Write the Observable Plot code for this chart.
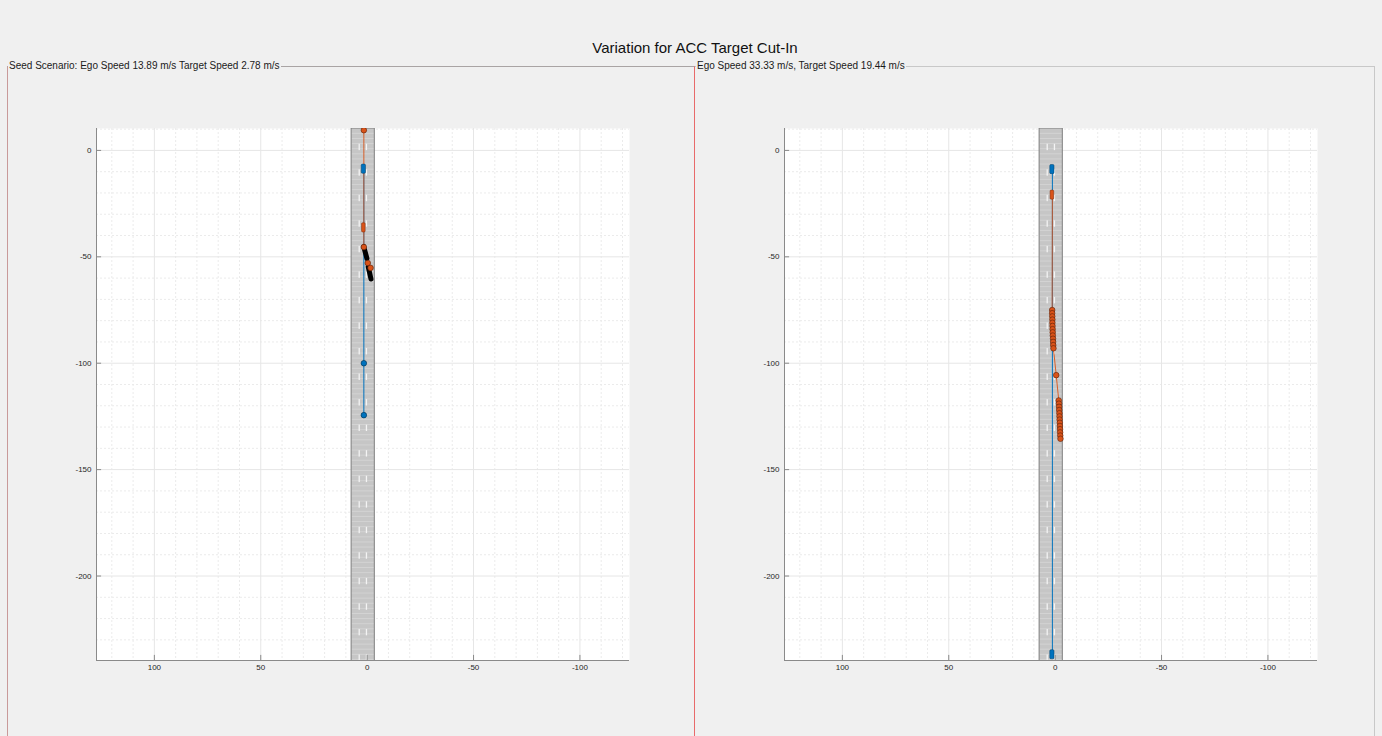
<!DOCTYPE html>
<html>
<head>
<meta charset="utf-8">
<script src="https://cdn.jsdelivr.net/npm/d3@7"></script>
<script src="https://cdn.jsdelivr.net/npm/@observablehq/plot@0.6"></script>
<style>
  html, body { margin: 0; padding: 0; }
  body { background: #f0f0f0; width: 1382px; height: 736px; overflow: hidden; position: relative;
         font-family: "Liberation Sans", Arial, Helvetica, sans-serif; }
  #title { position: absolute; left: 0; top: 39px; width: 1390px; text-align: center;
           font-size: 15px; line-height: 18px; color: #111; }
  .pborder { position: absolute; box-sizing: border-box; }
  .ptitle { position: absolute; top: 60px; font-size: 10px; line-height: 12px; color: #1a1a1a;
            background: #f0f0f0; padding: 0 1px; white-space: nowrap; }
  .chart { position: absolute; top: 100px; }
</style>
</head>
<body>
<div id="title">Variation for ACC Target Cut-In</div>
<div class="pborder" style="left:694px; top:66px; width:681px; height:700px; border-top:1px solid #c8c8c8; border-right:1px solid #c8c8c8;"></div>
<div class="pborder" style="left:7px; top:66px; width:688px; height:700px; border-top:1px solid #a9a4a4; border-left:1px solid #c99a9a; border-right:1px solid #e86a6a;"></div>
<div class="ptitle" style="left:8px;">Seed Scenario: Ego Speed 13.89 m/s Target Speed 2.78 m/s</div>
<div class="ptitle" style="left:696px;">Ego Speed 33.33 m/s, Target Speed 19.44 m/s</div>
<div class="chart" id="left" style="left:46px;"></div>
<div class="chart" id="right" style="left:734px;"></div>
<script>
// ---------- axes ----------
const xTicks = [100, 50, 0, -50, -100];
const yTicks = [0, -50, -100, -150, -200];
const xMinor = [120, 110, 90, 80, 70, 60, 40, 30, 20, 10, -10, -20, -30, -40, -60, -70, -80, -90, -110, -120];
const yMinor = [10, -10, -20, -30, -40, -60, -70, -80, -90, -110, -120, -130, -140, -160, -170, -180, -190, -210, -220, -230];
const xDomain = [127.2, -123.3];
const yDomain = [-239.7, 10.3];

// ---------- road ----------
const roadEdges = [-3.6, 7.3];
const roadLength = [-245, 10.3];
const laneMarkers = [0.1, 3.5];
const dashCenters = [1.4, -10.6, -22.6, -34.6, -46.6, -58.6, -70.6, -82.6, -94.6, -106.6, -118.6,
                     -130.6, -142.6, -154.6, -166.6, -178.6, -190.6, -202.6, -214.6, -226.6, -238.6];
const roadTexture = d3.range(-244, 10, 2.4);

// ---------- seed scenario (left) ----------
const seedEgoCars = [{x: 1.55, y: -8.8}];
const seedEgoPath = [{x: 1.55, y: -8.8}, {x: 1.55, y: -100}, {x: 1.55, y: -124.4}];
const seedEgoPoints = [{x: 1.55, y: -100}, {x: 1.55, y: -124.4}];
const seedTargetCars = [{x: 1.55, y: -36.4}];
const seedTargetPath = [{x: 1.55, y: 9.5}, {x: 1.55, y: -36.4}, {x: 1.55, y: -45.4}, {x: -0.3, y: -52.9}, {x: -1.6, y: -55.2}];
const seedTargetPoints = [{x: 1.55, y: 9.5}, {x: 1.55, y: -45.4}, {x: -0.3, y: -52.9}, {x: -1.6, y: -55.2}];
const seedOtherCars = [{x1: 1.6, y1: -45.2, x2: 0.1, y2: -50.8}, {x1: -0.5, y1: -54.6, x2: -1.8, y2: -60.4}];

// ---------- variant (right) ----------
const varEgoCars = [{x: 1.3, y: -9}, {x: 1.3, y: -237}];
const varEgoPath = [{x: 1.3, y: -9}, {x: 1.3, y: -237}];
const varEgoPoints = [];
const varTargetCars = [{x: 1.3, y: -21}];
const varTargetPoints = [
  {x: 1.4, y: -75}, {x: 1.4, y: -76.5}, {x: 1.35, y: -78}, {x: 1.3, y: -79.5}, {x: 1.3, y: -81},
  {x: 1.25, y: -82.5}, {x: 1.2, y: -84}, {x: 1.15, y: -85.5}, {x: 1.1, y: -87}, {x: 1.0, y: -88.5},
  {x: 0.95, y: -90}, {x: 0.9, y: -91.5}, {x: 0.8, y: -93},
  {x: -0.5, y: -105.6},
  {x: -1.7, y: -117.5}, {x: -1.8, y: -119}, {x: -1.85, y: -120.5}, {x: -1.9, y: -122}, {x: -2.0, y: -123.5},
  {x: -2.05, y: -125}, {x: -2.1, y: -126.5}, {x: -2.2, y: -128}, {x: -2.25, y: -129.5}, {x: -2.3, y: -131},
  {x: -2.35, y: -132.5}, {x: -2.4, y: -134}, {x: -2.5, y: -135.5}
];
const varTargetPath = [{x: 1.3, y: -21}, ...varTargetPoints];
const varOtherCars = [];

// ---------- colours ----------
const blue = "#0072BD";
const orange = "#D95319";

const carHalfW = 1.0, carHalfL = 2.15, tickLen = 2.4;

function panel(d) {
  const dashes = dashCenters.flatMap(c => laneMarkers.map(m => ({c, m})));
  return Plot.plot({
    width: 600, height: 590,
    marginLeft: 50, marginRight: 17, marginTop: 28, marginBottom: 30,
    x: {domain: xDomain},
    y: {domain: yDomain},
    style: {background: "transparent", fontFamily: "'Liberation Sans', Arial, sans-serif", fontSize: "8px", color: "#262626", overflow: "visible"},
    marks: [
      Plot.frame({fill: "white", stroke: "none"}),
      Plot.gridX(xMinor, {stroke: "#ebebeb", strokeOpacity: 1, strokeDasharray: "2,2"}),
      Plot.gridY(yMinor, {stroke: "#ebebeb", strokeOpacity: 1, strokeDasharray: "2,2"}),
      Plot.gridX(xTicks, {stroke: "#e6e6e6", strokeOpacity: 1}),
      Plot.gridY(yTicks, {stroke: "#e6e6e6", strokeOpacity: 1}),
      // road
      Plot.rect([0], {x1: roadEdges[0], x2: roadEdges[1], y1: roadLength[0], y2: roadLength[1], fill: "#c6c6c6", clip: true}),
      Plot.ruleY(roadTexture, {x1: roadEdges[0], x2: roadEdges[1], stroke: "#d3d3d3", strokeWidth: 1, clip: true}),
      Plot.rect(dashes, {x1: v => v.m - 0.3, x2: v => v.m + 0.3, y1: v => v.c - 1.5, y2: v => v.c + 1.5, fill: "#f4f4f4", clip: true}),
      Plot.rect([0], {x1: roadEdges[0], x2: roadEdges[1], y1: roadLength[0], y2: roadLength[1], fill: "none", stroke: "#7f7f7f", strokeWidth: 1, clip: true}),
      // paths
      Plot.line(d.egoPath, {x: "x", y: "y", stroke: blue, strokeWidth: 1, clip: true}),
      Plot.line(d.targetPath, {x: "x", y: "y", stroke: orange, strokeWidth: 0.9, clip: true}),
      // cars
      Plot.link(d.otherCars, {x1: "x1", y1: "y1", x2: "x2", y2: "y2", stroke: "black", strokeWidth: 5, strokeLinecap: "round", clip: true}),
      Plot.rect(d.egoCars, {x1: v => v.x - carHalfW, x2: v => v.x + carHalfW, y1: v => v.y - carHalfL, y2: v => v.y + carHalfL, fill: blue, stroke: "#00406b", strokeWidth: 0.5, rx: 1.2, clip: true}),
      Plot.rect(d.targetCars, {x1: v => v.x - carHalfW * 0.85, x2: v => v.x + carHalfW * 0.85, y1: v => v.y - carHalfL, y2: v => v.y + carHalfL, fill: orange, stroke: "#7a2b0a", strokeWidth: 0.5, rx: 1, clip: true}),
      // waypoints
      Plot.dot(d.egoPoints, {x: "x", y: "y", r: 2.8, fill: blue, stroke: "#00304f", strokeWidth: 0.6, clip: true}),
      Plot.dot(d.targetPoints, {x: "x", y: "y", r: 2.8, fill: orange, stroke: "#5a2008", strokeWidth: 0.6, clip: true}),
      // axes (MATLAB style: inward ticks, left & bottom lines)
      Plot.ruleX([xDomain[0]], {stroke: "#8a8a8a", strokeWidth: 1}),
      Plot.ruleY([yDomain[0]], {stroke: "#8a8a8a", strokeWidth: 1}),
      Plot.ruleX(xTicks, {y1: yDomain[0], y2: yDomain[0] + tickLen, stroke: "#8a8a8a"}),
      Plot.ruleY(yTicks, {x1: xDomain[0], x2: xDomain[0] - tickLen, stroke: "#8a8a8a"}),
      Plot.axisX(xTicks, {tickSize: 0, tickPadding: 4, fontSize: 8, tickFormat: v => String(v), label: null, fill: "#262626"}),
      Plot.axisY(yTicks, {tickSize: 0, tickPadding: 5, fontSize: 8, tickFormat: v => String(v), label: null, fill: "#262626"})
    ]
  });
}

document.getElementById("left").append(panel({
  egoCars: seedEgoCars, egoPath: seedEgoPath, egoPoints: seedEgoPoints,
  targetCars: seedTargetCars, targetPath: seedTargetPath, targetPoints: seedTargetPoints,
  otherCars: seedOtherCars
}));
document.getElementById("right").append(panel({
  egoCars: varEgoCars, egoPath: varEgoPath, egoPoints: varEgoPoints,
  targetCars: varTargetCars, targetPath: varTargetPath, targetPoints: varTargetPoints,
  otherCars: varOtherCars
}));
</script>
</body>
</html>
